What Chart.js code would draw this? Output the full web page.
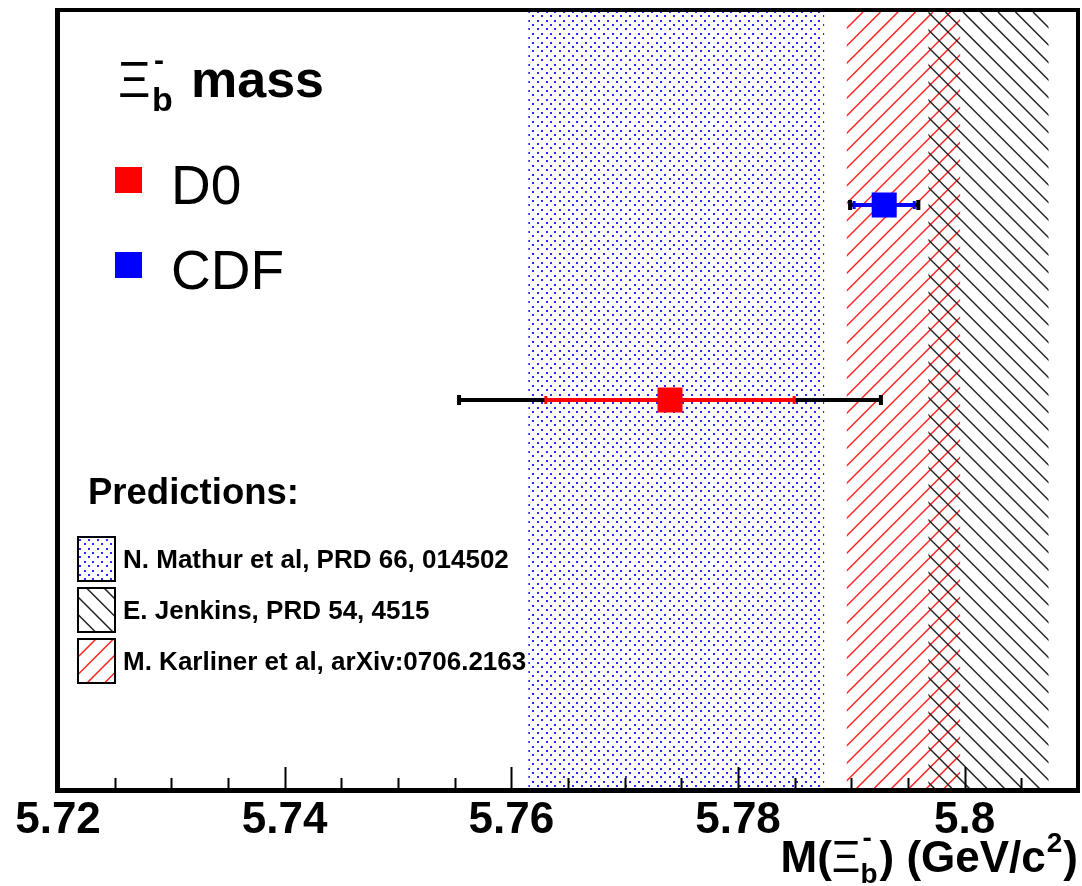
<!DOCTYPE html>
<html>
<head>
<meta charset="utf-8">
<script src="https://cdn.jsdelivr.net/npm/chart.js@4.4.0/dist/chart.umd.min.js"></script>
<style>
  html, body { margin: 0; padding: 0; background: #fff; }
  #wrap { width: 1082px; height: 886px; position: relative; }
</style>
</head>
<body>
<div id="wrap"><canvas id="myChart"></canvas></div>
<script>
// axis
const xMin = 5.72;
const xMax = 5.81;
const majorTicks = [5.72, 5.74, 5.76, 5.78, 5.80];

// measurements
const experiments = ["D0", "CDF"];
const massValues = [5.774, 5.7929];
const rowPos = [0.5, 0.75];
const statErr = [0.011, 0.0027];
const totalErr = [0.0187, 0.0031];

// theory predictions (bands)
const predictionLabels = [
  "N. Mathur et al, PRD 66, 014502",
  "E. Jenkins, PRD 54, 4515",
  "M. Karliner et al, arXiv:0706.2163"
];
const predictionLow = [5.7615, 5.7968, 5.7896];
const predictionHigh = [5.7876, 5.8074, 5.7996];

const expColors = ["#ff0000", "#0000ff"];
const bandStyles = ["dots", "back", "fwd"];
const FONT = '"Liberation Sans", Arial, Helvetica, sans-serif';

function fillBand(ctx, style, x0, y0, x1, y1) {
  ctx.save();
  ctx.beginPath();
  ctx.rect(x0, y0, x1 - x0, y1 - y0);
  ctx.clip();
  if (style === "dots") {
    ctx.fillStyle = "#2a2aff";
    let row = 0;
    for (let y = 2; y < y1 + 5; y += 4.4, row++) {
      if (y < y0 - 5) continue;
      const off = (row % 2) * 4.4;
      for (let x = off; x < x1 + 9; x += 8.8) {
        if (x < x0 - 9) continue;
        ctx.fillRect(Math.round(x), Math.round(y), 2, 2);
      }
    }
  } else {
    const sp = 17.5;
    ctx.lineWidth = 1.5;
    ctx.strokeStyle = style === "fwd" ? "#ff2020" : "#222";
    ctx.beginPath();
    if (style === "fwd") {
      const c0 = Math.floor((x0 + y0) / sp) * sp;
      for (let c = c0; c <= x1 + y1; c += sp) {
        ctx.moveTo(c - y1, y1);
        ctx.lineTo(c - y0, y0);
      }
    } else {
      const c0 = Math.floor((x0 - y1) / sp) * sp + 6;
      for (let c = c0; c <= x1 - y0; c += sp) {
        ctx.moveTo(c + y0, y0);
        ctx.lineTo(c + y1, y1);
      }
    }
    ctx.stroke();
  }
  ctx.restore();
}

function drawParts(ctx, parts, x, base, measureOnly) {
  let cx = x;
  parts.forEach(p => {
    ctx.font = p.font;
    const w = ctx.measureText(p.t).width;
    if (!measureOnly) ctx.fillText(p.t, cx + (p.dx || 0), base + (p.dy || 0));
    if (!p.noAdvance) cx += w + (p.dx || 0);
  });
  return cx - x;
}

const bandsPlugin = {
  id: "bands",
  beforeDatasetsDraw(chart) {
    const ctx = chart.ctx;
    const a = chart.chartArea;
    const xs = chart.scales.x;
    const ys = chart.scales.y;
    [0, 2, 1].forEach(i => {
      const l = xs.getPixelForValue(predictionLow[i]);
      const r = xs.getPixelForValue(predictionHigh[i]);
      fillBand(ctx, bandStyles[i], l, a.top + 2, r, a.bottom);
    });
    // error bars
    experiments.forEach((e, i) => {
      const y = ys.getPixelForValue(rowPos[i]);
      const tl = xs.getPixelForValue(massValues[i] - totalErr[i]);
      const tr = xs.getPixelForValue(massValues[i] + totalErr[i]);
      const sl = xs.getPixelForValue(massValues[i] - statErr[i]);
      const sr = xs.getPixelForValue(massValues[i] + statErr[i]);
      ctx.save();
      ctx.fillStyle = "#000";
      ctx.fillRect(tl, y - 2, tr - tl, 4);
      ctx.fillRect(tl - 1, y - 5, 4, 10);
      ctx.fillRect(tr - 3, y - 5, 4, 10);
      ctx.fillStyle = expColors[i];
      ctx.fillRect(sl, y - 2, sr - sl, 4);
      ctx.fillRect(sl - 1, y - 4, 3, 8);
      ctx.fillRect(sr - 2, y - 4, 3, 8);
      ctx.restore();
    });
  },
  afterDraw(chart) {
    const ctx = chart.ctx;
    const a = chart.chartArea;
    const xs = chart.scales.x;
    ctx.save();
    // ticks
    ctx.strokeStyle = "#000";
    ctx.lineWidth = 2;
    ctx.beginPath();
    for (let k = 0; ; k++) {
      const v = xMin + k * 0.005;
      if (v > xMax + 1e-9) break;
      const major = majorTicks.some(m => Math.abs(m - v) < 1e-6);
      const px = Math.round(xs.getPixelForValue(v)) + 0.5;
      ctx.moveTo(px, a.bottom);
      ctx.lineTo(px, a.bottom - (major ? 23 : 12));
    }
    ctx.stroke();
    // frame
    ctx.lineWidth = 4;
    ctx.strokeRect(a.left, a.top, a.right - a.left, a.bottom - a.top);
    ctx.fillStyle = "#000";
    ctx.fillRect(a.left - 3, a.bottom - 2, a.right - a.left + 5, 5);
    ctx.fillRect(a.left - 3, a.top - 2, 5, a.bottom - a.top + 4);

    // title
    ctx.fillStyle = "#000";
    ctx.textBaseline = "alphabetic";
    ctx.textAlign = "left";
    ctx.font = "50px " + FONT;
    ctx.fillText("\u039E", 118, 97);
    ctx.font = "bold 30px " + FONT;
    ctx.fillText("-", 154, 70);
    ctx.font = "bold 34px " + FONT;
    ctx.fillText("b", 152, 111);
    ctx.font = "bold 52px " + FONT;
    ctx.fillText("mass", 191, 97);

    // experiment legend
    const legY = [180, 265];
    experiments.forEach((e, i) => {
      ctx.fillStyle = expColors[i];
      ctx.fillRect(115, legY[i] - 13, 27, 26);
      ctx.fillStyle = "#000";
      ctx.font = "55px " + FONT;
      ctx.fillText(e, 171, legY[i] + 24);
    });

    // predictions legend
    ctx.font = "bold 36.5px " + FONT;
    ctx.fillText("Predictions:", 88, 504);
    const boxTop = [537, 588, 639];
    predictionLabels.forEach((lab, i) => {
      fillBand(ctx, bandStyles[i], 78, boxTop[i], 115, boxTop[i] + 44);
      ctx.lineWidth = 2;
      ctx.strokeStyle = "#000";
      ctx.strokeRect(78, boxTop[i], 37, 44);
      ctx.fillStyle = "#000";
      ctx.font = "bold 26px " + FONT;
      ctx.fillText(lab, 123, boxTop[i] + 31);
    });

    // x axis title
    const big = "bold 44px " + FONT;
    const small = "bold 28px " + FONT;
    const parts = [
      { t: "M(", font: big },
      { t: "\u039E", font: "44px " + FONT },
      { t: "-", font: small, dy: -25, noAdvance: true, dx: 2 },
      { t: "b", font: small, dy: 11, dx: 0 },
      { t: ") (GeV/c", font: big, dx: 2 },
      { t: "2", font: small, dy: -20, dx: 1 },
      { t: ")", font: big, dx: 1 }
    ];
    const w = drawParts(ctx, parts, 0, 0, true);
    drawParts(ctx, parts, 1078 - w, 872, false);
    ctx.restore();
  }
};

const datasets = experiments.map((e, i) => ({
  label: e,
  data: [{ x: massValues[i], y: rowPos[i] }],
  pointStyle: "rect",
  pointRadius: 17.7,
  pointHoverRadius: 17.7,
  backgroundColor: expColors[i],
  borderWidth: 0
}));

new Chart("myChart", {
  type: "scatter",
  data: { datasets: datasets },
  options: {
    responsive: true,
    maintainAspectRatio: false,
    devicePixelRatio: 1,
    animation: false,
    layout: { autoPadding: false, padding: { left: 58, right: 4, top: 10, bottom: 0 } },
    plugins: { legend: { display: false }, tooltip: { enabled: false } },
    scales: {
      x: {
        type: "linear",
        min: xMin,
        max: xMax,
        afterBuildTicks: s => { s.ticks = majorTicks.map(v => ({ value: v })); },
        afterFit: s => { s.height = 96; },
        grid: { display: false, drawTicks: false },
        border: { display: false },
        ticks: {
          color: "#000",
          padding: 4,
          maxRotation: 0,
          autoSkip: false,
          font: { family: FONT, size: 44, weight: "bold" },
          callback: v => String(+Number(v).toFixed(3))
        }
      },
      y: { type: "linear", min: 0, max: 1, display: false }
    }
  },
  plugins: [bandsPlugin]
});
</script>
</body>
</html>
